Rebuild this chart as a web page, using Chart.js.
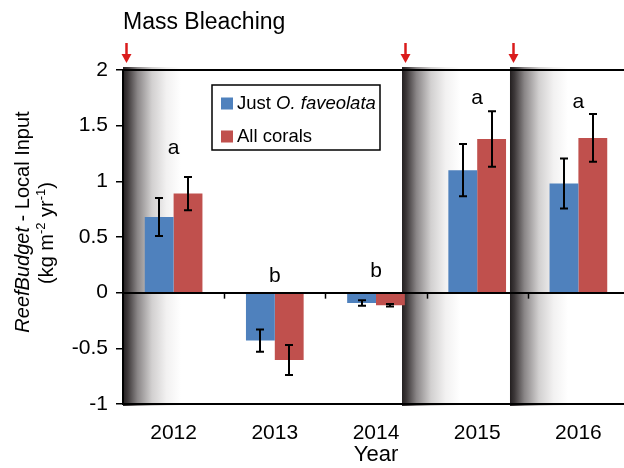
<!DOCTYPE html>
<html>
<head>
<meta charset="utf-8">
<script src="https://cdn.jsdelivr.net/npm/chart.js@4/dist/chart.umd.min.js"></script>
<style>
  html, body { margin: 0; padding: 0; background: #fff; overflow: hidden; }
  canvas { display: block; }
</style>
</head>
<body>
<canvas id="myChart" width="632" height="468"></canvas>
<script>
// values
const years = ['2012', '2013', '2014', '2015', '2016']
const justFaveolata = [0.68, -0.43, -0.093, 1.10, 0.98]
const justFaveolataErr = [0.17, 0.10, 0.025, 0.235, 0.225]
const allCorals = [0.89, -0.605, -0.113, 1.38, 1.39]
const allCoralsErr = [0.15, 0.135, 0.012, 0.25, 0.215]
const groupLetters = ['a', 'b', 'b', 'a', 'a']
const letterHeights = [1.30, 0.15, 0.19, 1.75, 1.71]
// bleaching events, in category units (0 = 2012)
const bleachingAt = [-0.5, 2.257, 3.324]

const FONT = "'Liberation Sans', Arial, sans-serif"
const BLUE = '#4f81bd'
const RED = '#c0504d'

const drawMixed = (ctx, parts, size, startX) => {
    let x = startX
    parts.forEach(p => {
        const s = p.sup ? size * 0.65 : size
        ctx.font = (p.italic ? 'italic ' : '') + s + 'px ' + FONT
        ctx.fillText(p.t, x, p.sup ? -size * 0.38 : 0)
        x += ctx.measureText(p.t).width
    })
}
const measureMixed = (ctx, parts, size) => {
    let w = 0
    parts.forEach(p => {
        const s = p.sup ? size * 0.65 : size
        ctx.font = (p.italic ? 'italic ' : '') + s + 'px ' + FONT
        w += ctx.measureText(p.t).width
    })
    return w
}

const bleachingBands = {
    id: 'bleachingBands',
    beforeDatasetsDraw(chart) {
        const { ctx, chartArea, scales } = chart
        ctx.save()
        bleachingAt.forEach(v => {
            const x0 = scales.x.getPixelForValue(v)
            const w = 58
            const g = ctx.createLinearGradient(x0, 0, x0 + w, 0)
            g.addColorStop(0, '#231f20')
            g.addColorStop(0.08, '#3e393a')
            g.addColorStop(0.25, '#8a8687')
            g.addColorStop(0.5, '#d2d0d0')
            g.addColorStop(0.75, '#f2f1f1')
            g.addColorStop(1, '#ffffff')
            ctx.fillStyle = g
            ctx.fillRect(x0, chartArea.top - 3, w, chartArea.bottom - chartArea.top + 5)
        })
        ctx.restore()
    }
}

const overlay = {
    id: 'overlay',
    afterDatasetsDraw(chart) {
        const { ctx, chartArea, scales } = chart
        const x = scales.x, y = scales.y
        ctx.save()
        ctx.strokeStyle = '#000'

        // horizontal lines at 2, 0, -1
        ctx.lineWidth = 2
        ;[y.max, 0, y.min].forEach(v => {
            const py = Math.round(y.getPixelForValue(v))
            ctx.beginPath()
            ctx.moveTo(chartArea.left - 1, py)
            ctx.lineTo(chartArea.right, py)
            ctx.stroke()
        })
        // left axis
        ctx.beginPath()
        ctx.moveTo(chartArea.left, chartArea.top - 1)
        ctx.lineTo(chartArea.left, chartArea.bottom + 1)
        ctx.stroke()

        // category ticks under the zero line
        const zy = y.getPixelForValue(0)
        ctx.lineWidth = 1.5
        for (let i = 1; i < years.length; i++) {
            const px = Math.round((x.getPixelForValue(i - 1) + x.getPixelForValue(i)) / 2) + 0.5
            ctx.beginPath()
            ctx.moveTo(px, zy)
            ctx.lineTo(px, zy + 6)
            ctx.stroke()
        }

        // error bars
        ctx.lineWidth = 2
        const errs = [justFaveolataErr, allCoralsErr]
        const vals = [justFaveolata, allCorals]
        chart.data.datasets.forEach((ds, di) => {
            chart.getDatasetMeta(di).data.forEach((bar, j) => {
                const px = Math.round(bar.x)
                const hi = y.getPixelForValue(vals[di][j] + errs[di][j])
                const lo = y.getPixelForValue(vals[di][j] - errs[di][j])
                ctx.beginPath()
                ctx.moveTo(px, hi)
                ctx.lineTo(px, lo)
                ctx.moveTo(px - 4, hi)
                ctx.lineTo(px + 4, hi)
                ctx.moveTo(px - 4, lo)
                ctx.lineTo(px + 4, lo)
                ctx.stroke()
            })
        })

        // significance letters
        ctx.fillStyle = '#000'
        ctx.font = '21px ' + FONT
        ctx.textAlign = 'center'
        ctx.textBaseline = 'middle'
        groupLetters.forEach((l, j) => {
            ctx.fillText(l, x.getPixelForValue(j), y.getPixelForValue(letterHeights[j]))
        })

        // bleaching arrows
        ctx.fillStyle = '#da1c1c'
        ctx.strokeStyle = '#da1c1c'
        bleachingAt.forEach(v => {
            const ax = Math.round(x.getPixelForValue(v)) + 3.5
            const t = chartArea.top
            ctx.lineWidth = 2.5
            ctx.beginPath()
            ctx.moveTo(ax, t - 27)
            ctx.lineTo(ax, t - 14)
            ctx.stroke()
            ctx.beginPath()
            ctx.moveTo(ax - 5, t - 16)
            ctx.lineTo(ax + 5, t - 16)
            ctx.lineTo(ax, t - 7)
            ctx.closePath()
            ctx.fill()
        })
        ctx.restore()
    },
    afterDraw(chart) {
        const { ctx, chartArea } = chart
        ctx.save()
        ctx.fillStyle = '#000'
        ctx.textAlign = 'left'
        ctx.textBaseline = 'alphabetic'

        // title
        ctx.font = '23px ' + FONT
        ctx.fillText('Mass Bleaching', chartArea.left, 29)

        // legend
        const lx = chartArea.left + 89, ly = chartArea.top + 15
        ctx.fillStyle = '#fff'
        ctx.fillRect(lx, ly, 168, 65)
        ctx.strokeStyle = '#000'
        ctx.lineWidth = 1.5
        ctx.strokeRect(lx, ly, 168, 65)
        const items = [
            { color: BLUE, parts: [{ t: 'Just ' }, { t: 'O. faveolata', italic: true }] },
            { color: RED, parts: [{ t: 'All corals' }] }
        ]
        items.forEach((it, k) => {
            const base = ly + 23.5 + k * 33
            ctx.fillStyle = it.color
            ctx.fillRect(lx + 9, base - 11, 12, 12)
            ctx.fillStyle = '#000'
            ctx.save()
            ctx.translate(lx + 25, base)
            drawMixed(ctx, it.parts, 18.5, 0)
            ctx.restore()
        })

        // y axis title, two rotated lines
        const lines = [
            { x: 29, yc: 222, parts: [{ t: 'ReefBudget', italic: true }, { t: ' - Local Input' }] },
            { x: 53, yc: 233, parts: [{ t: '(kg m' }, { t: '-2', sup: true }, { t: ' yr' }, { t: '-1', sup: true }, { t: ')' }] }
        ]
        lines.forEach(ln => {
            ctx.save()
            ctx.translate(ln.x, ln.yc)
            ctx.rotate(-Math.PI / 2)
            const w = measureMixed(ctx, ln.parts, 20)
            drawMixed(ctx, ln.parts, 20, -w / 2)
            ctx.restore()
        })
        ctx.restore()
    }
}

const ctx = document.getElementById('myChart').getContext('2d')
new Chart(ctx, {
    type: 'bar',
    data: {
        labels: years,
        datasets: [
            {
                label: 'Just O. faveolata',
                backgroundColor: BLUE,
                data: justFaveolata
            },
            {
                label: 'All corals',
                backgroundColor: RED,
                data: allCorals
            }
        ]
    },
    options: {
        responsive: false,
        animation: false,
        layout: { padding: { top: 70, right: 3, left: 0, bottom: 0 } },
        datasets: {
            bar: { categoryPercentage: 0.57, barPercentage: 1.0 }
        },
        plugins: {
            legend: { display: false },
            tooltip: { enabled: false }
        },
        scales: {
            x: {
                grid: { display: false, drawTicks: false },
                border: { display: false },
                ticks: { color: '#000', font: { family: FONT, size: 21 }, padding: 17 },
                title: { display: true, text: 'Year', color: '#000', font: { family: FONT, size: 22 }, padding: { top: 1, bottom: 0 } },
                afterFit: s => { s.height = 64 }
            },
            y: {
                min: -1,
                max: 2,
                ticks: {
                    stepSize: 0.5, color: '#000', font: { family: FONT, size: 21 }, padding: 8,
                    callback: v => String(+v.toFixed(1))
                },
                grid: { drawOnChartArea: false, drawTicks: true, tickLength: 7, color: '#000', lineWidth: 1.5 },
                border: { display: true, color: '#000', width: 2 },
                afterFit: s => { s.width = 123 }
            }
        }
    },
    plugins: [bleachingBands, overlay]
})
</script>
</body>
</html>
